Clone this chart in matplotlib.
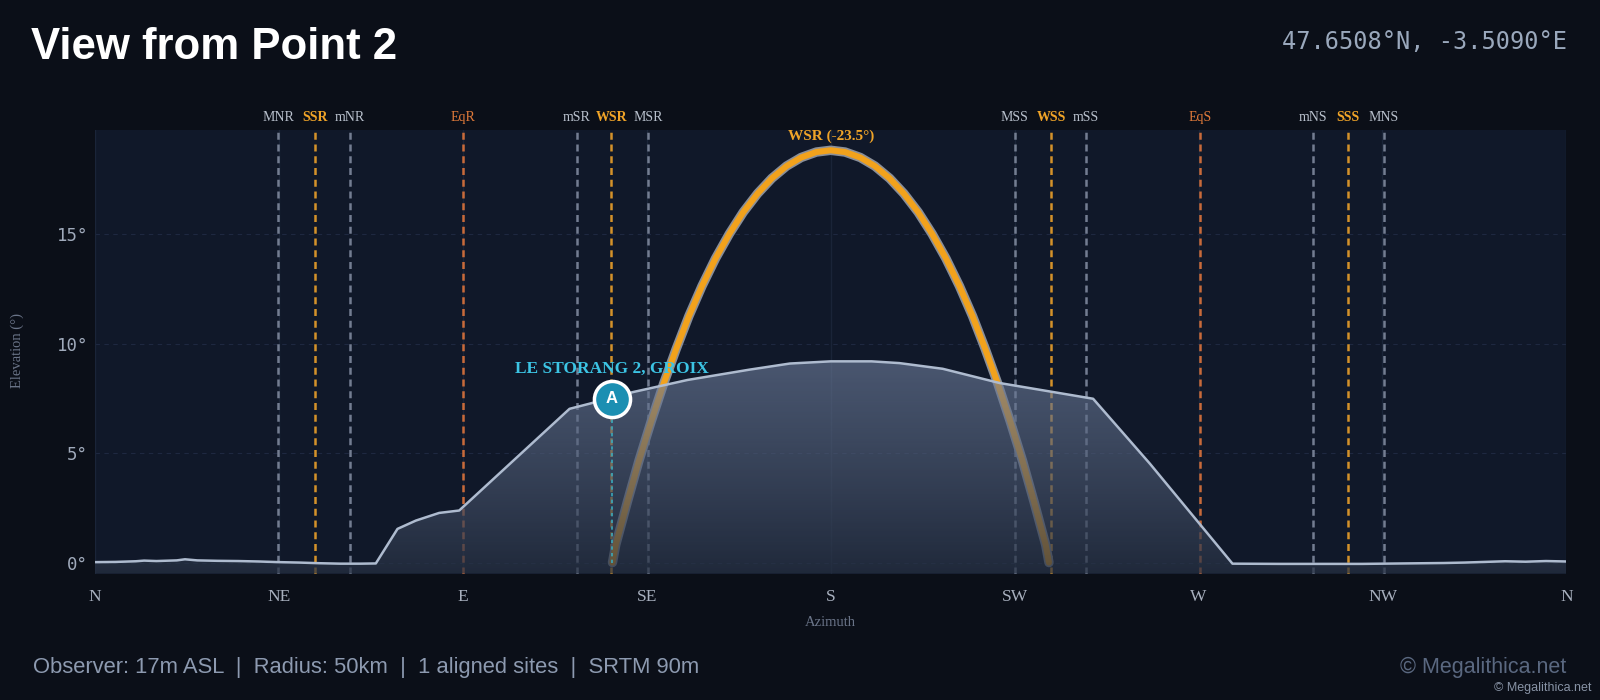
import numpy as np
import matplotlib.pyplot as plt
from matplotlib.patches import Polygon

# horizon profile (azimuth deg, elevation deg)
horizon_az = [0, 5, 10, 12, 15, 20, 22, 25, 30, 35, 40, 45, 50, 55, 60, 65, 68.7,
              74.0, 78.5, 84.2, 89.1, 116.1, 120.9, 131.5, 145, 160.1, 170, 180,
              190, 196.8, 207.4, 221.3, 244.2, 258.1, 278.3, 290, 300, 310, 320,
              330, 335, 340, 345, 350, 355, 360]
horizon_el = [0.02, 0.03, 0.06, 0.09, 0.07, 0.10, 0.15, 0.10, 0.08, 0.07, 0.05, 0.02,
              0.0, -0.03, -0.05, -0.05, -0.04, 1.54, 1.92, 2.27, 2.38, 7.03, 7.26,
              7.79, 8.35, 8.82, 9.10, 9.20, 9.20, 9.12, 8.86, 8.21, 7.49, 4.52,
              -0.05, -0.06, -0.06, -0.06, -0.04, -0.02, 0.0, 0.03, 0.06, 0.04, 0.07, 0.05]

# winter solstice sun path
sun_az = [126.6, 127.4, 130.25, 133.1, 136.1, 139.1, 142.2, 145.3, 148.5, 151.8,
          155.2, 158.6, 162.1, 165.6, 169.2, 172.75, 176.5, 180,
          183.5, 187.25, 190.8, 194.4, 197.9, 201.4, 204.8, 208.2, 211.5, 214.7,
          217.8, 220.9, 223.9, 226.9, 229.75, 232.6, 233.4]
sun_el = [0.0, 0.81, 2.78, 4.67, 6.47, 8.17, 9.77, 11.27, 12.64, 13.90,
          15.03, 16.02, 16.87, 17.57, 18.13, 18.52, 18.77, 18.85,
          18.77, 18.52, 18.13, 17.57, 16.87, 16.02, 15.03, 13.90, 12.64, 11.27,
          9.77, 8.17, 6.47, 4.67, 2.78, 0.81, 0.0]

# rise / set azimuths
line_names = ['MNR', 'SSR', 'mNR', 'EqR', 'mSR', 'WSR', 'MSR',
              'MSS', 'WSS', 'mSS', 'EqS', 'mNS', 'SSS', 'MNS']
line_az = [44.8, 53.9, 62.4, 90.1, 117.8, 126.3, 135.3,
           225.0, 234.0, 242.4, 270.3, 298.1, 306.5, 315.4]
line_kind = ['m', 's', 'm', 'e', 'm', 's', 'm',
             'm', 's', 'm', 'e', 'm', 's', 'm']

compass_pos = [0, 45, 90, 135, 180, 225, 270, 315, 360]
compass_lab = ['N', 'NE', 'E', 'SE', 'S', 'SW', 'W', 'NW', 'N']

site_name = 'LE STORANG 2, GROIX'
site_az = 126.4
site_el = 7.48

FIG_BG = '#0b0f18'
AX_BG = '#101829'
YMIN, YMAX = -0.5, 19.8

kind_col = {'m': '#737d91', 's': '#d4922a', 'e': '#c86a3a'}
lab_col = {'m': '#b8c0cc', 's': '#f0a428', 'e': '#e07a3a'}
lab_w = {'m': 'normal', 's': 'bold', 'e': 'normal'}

fig = plt.figure(figsize=(16, 7), dpi=100, facecolor=FIG_BG)
ax = fig.add_axes([0.0594, 0.1807, 0.9196, 0.6343])
ax.set_facecolor(AX_BG)

# grid
for y in [0, 5, 10, 15]:
    ax.axhline(y, color='#1e2840', lw=0.8, ls=(0, (4, 4)), zorder=0.5)
for x in compass_pos:
    ax.axvline(x, color='#1a2438', lw=1.0, zorder=0.5)

# rise/set lines
for name, a, k in zip(line_names, line_az, line_kind):
    ax.axvline(a, color=kind_col[k], lw=1.8, ls=(0, (2.8, 1.9)), zorder=1)
    ax.text(a, 1.026, name, transform=ax.get_xaxis_transform(), ha='center', va='center',
            fontsize=10, family='Liberation Serif', color=lab_col[k], fontweight=lab_w[k])

# sun path
ax.plot(sun_az, sun_el, color='#8a8f99', lw=6.8, solid_capstyle='round',
        solid_joinstyle='round', zorder=2)
ax.plot(sun_az, sun_el, color='#f2a21c', lw=4.4, solid_capstyle='round',
        solid_joinstyle='round', zorder=2.1)
ax.text(180, 19.5, 'WSR (-23.5°)', ha='center', va='center', fontsize=11,
        family='Liberation Serif', fontweight='bold', color='#f0a428', zorder=6)

# horizon fill with gradient
px = [horizon_az[0]] + horizon_az + [horizon_az[-1]]
py = [YMIN] + horizon_el + [YMIN]
patch = Polygon(np.column_stack([px, py]), closed=True, facecolor='none', edgecolor='none')
ax.add_patch(patch)
top_c = np.array([113, 129, 160]) / 255
bot_c = np.array([38, 48, 66]) / 255
t = np.linspace(0, 1, 256)[:, None]
grad = np.zeros((256, 1, 4))
grad[:, 0, :3] = bot_c + (top_c - bot_c) * t
grad[:, 0, 3] = 0.72 - 0.12 * t[:, 0]
im = ax.imshow(grad, extent=[0, 360, YMIN, 9.3], origin='lower', aspect='auto', zorder=3)
im.set_clip_path(patch)
ax.plot(horizon_az, horizon_el, color='#aebbcf', lw=1.8, zorder=4)

# aligned site
ax.plot([site_az, site_az], [0, site_el], color='#3aa8ba', lw=1.2, ls=(0, (2, 2)), zorder=4.5)
ax.plot(site_az, site_el, 'o', ms=26, mfc='#1b8fb2', mec='white', mew=2.5, zorder=5)
ax.text(site_az, site_el, 'A', ha='center', va='center', fontsize=12, fontweight='bold',
        color='white', family='Liberation Sans', zorder=6)
ax.text(site_az, 8.87, site_name, ha='center', va='center', fontsize=12.5,
        fontweight='bold', family='Liberation Serif', color='#3cc4e4', zorder=6)

ax.set_xlim(0, 360)
ax.set_ylim(YMIN, YMAX)
ax.set_xticks(compass_pos)
ax.set_xticklabels(compass_lab, family='Liberation Serif', fontsize=12.5, color='#a8b0be')
ax.set_yticks([0, 5, 10, 15])
ax.set_yticklabels([f'{v}°' for v in [0, 5, 10, 15]], family='DejaVu Sans Mono',
                   fontsize=12.5, color='#a0aabb')
ax.tick_params(length=0)
ax.tick_params(axis='x', pad=11)
ax.tick_params(axis='y', pad=5)
for s in ax.spines.values():
    s.set_visible(False)

fig.text(0.519, 0.111, 'Azimuth', ha='center', va='center', fontsize=10.5,
         family='Liberation Serif', color='#6a7488')
fig.text(0.011, 0.4986, 'Elevation (°)', ha='center', va='center', rotation=90,
         fontsize=10.5, family='Liberation Serif', color='#6a7488')

fig.text(0.0195, 0.9157, 'View from Point 2', ha='left', va='baseline', fontsize=31.5,
         fontweight='bold', family='Liberation Sans', color='white')
fig.text(0.9792, 0.9296, '47.6508°N, -3.5090°E', ha='right', va='baseline', fontsize=17,
         family='DejaVu Sans Mono', color='#9aa8bc')
fig.text(0.0205, 0.046, 'Observer: 17m ASL  |  Radius: 50km  |  1 aligned sites  |  SRTM 90m',
         ha='left', va='center', fontsize=15.8, family='Liberation Sans', color='#8d9ab0')
fig.text(0.9792, 0.046, '© Megalithica.net', ha='right', va='center', fontsize=15.5,
         family='Liberation Sans', color='#5a6880')
fig.text(0.995, 0.0167, '© Megalithica.net', ha='right', va='center', fontsize=9,
         family='Liberation Sans', color='#8893a5')

fig.savefig('out.png', dpi=100, facecolor=FIG_BG)
